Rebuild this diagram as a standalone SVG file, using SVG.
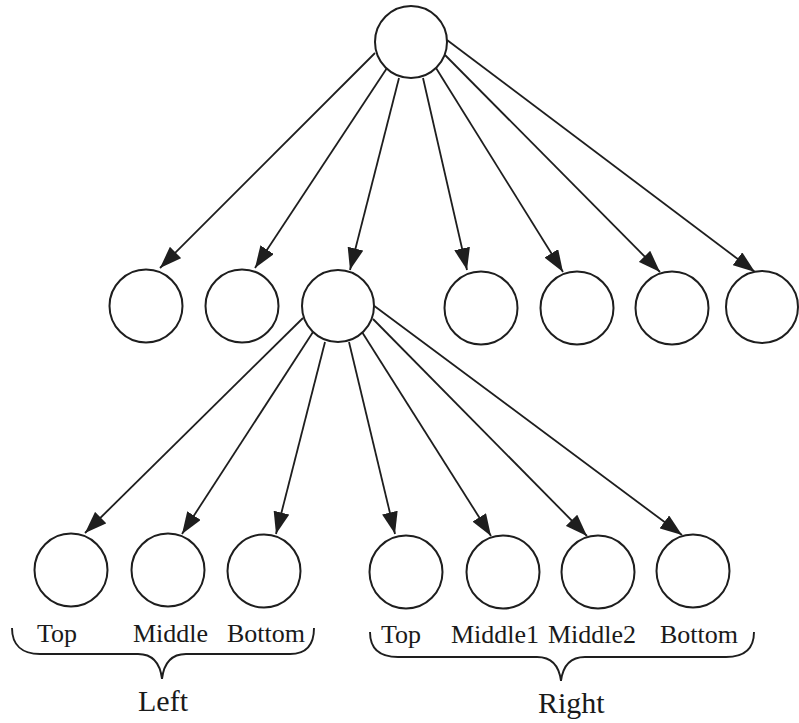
<svg xmlns="http://www.w3.org/2000/svg" width="799" height="723" viewBox="0 0 799 723">
  <style>
    .node { fill: #ffffff; stroke: #1e1e1e; stroke-width: 2; }
    .edge { stroke: #1e1e1e; stroke-width: 1.8; fill: none; marker-end: url(#arrow); }
    .brace { stroke: #1e1e1e; stroke-width: 1.9; fill: none; }
    .lbl { font-family: "Liberation Serif", "Times New Roman", serif; font-size: 26px; fill: #1a1a1a; }
    .grp { font-family: "Liberation Serif", "Times New Roman", serif; font-size: 30px; fill: #1a1a1a; }
  </style>
  <defs>
    <marker id="arrow" viewBox="0 0 22 16" refX="22" refY="8" markerWidth="22" markerHeight="16" markerUnits="userSpaceOnUse" orient="auto">
      <path d="M0,0 L22,8 L0,16 z" fill="#1e1e1e"/>
    </marker>
  </defs>
  <rect width="799" height="723" fill="#ffffff"/>

  <!-- connectors -->
  <g id="edges">
    <line class="edge" x1="375" y1="53" x2="160" y2="268"/>
    <line class="edge" x1="387" y1="68" x2="255" y2="268"/>
    <line class="edge" x1="399" y1="78" x2="350" y2="270"/>
    <line class="edge" x1="423" y1="78" x2="467" y2="270"/>
    <line class="edge" x1="436" y1="68" x2="563" y2="272"/>
    <line class="edge" x1="445" y1="55" x2="660" y2="272"/>
    <line class="edge" x1="447" y1="40" x2="755" y2="272"/>

    <line class="edge" x1="303" y1="318" x2="85" y2="533"/>
    <line class="edge" x1="313" y1="332" x2="182" y2="534"/>
    <line class="edge" x1="325" y1="342" x2="276" y2="534"/>
    <line class="edge" x1="349" y1="342" x2="395" y2="534"/>
    <line class="edge" x1="362" y1="332" x2="491" y2="536"/>
    <line class="edge" x1="373" y1="319" x2="587" y2="536"/>
    <line class="edge" x1="373" y1="305" x2="682" y2="535"/>
  </g>

  <!-- root -->
  <g id="root"><circle class="node" cx="411" cy="42" r="36"/></g>

  <!-- second level -->
  <g id="n1"><circle class="node" cx="146" cy="306" r="36.5"/></g>
  <g id="n2"><circle class="node" cx="242" cy="306" r="36.5"/></g>
  <g id="n3"><circle class="node" cx="338" cy="306" r="36"/></g>
  <g id="n4"><circle class="node" cx="481" cy="308" r="36.5"/></g>
  <g id="n5"><circle class="node" cx="577" cy="308" r="36.5"/></g>
  <g id="n6"><circle class="node" cx="672" cy="308" r="36.5"/></g>
  <g id="n7"><circle class="node" cx="762" cy="307" r="36"/></g>

  <!-- third level, left side -->
  <g id="left-top"><circle class="node" cx="71" cy="570" r="36.5"/><text class="lbl" x="37" y="642">Top</text></g>
  <g id="left-middle"><circle class="node" cx="168" cy="570" r="36.5"/><text class="lbl" x="133" y="642">Middle</text></g>
  <g id="left-bottom"><circle class="node" cx="264" cy="571" r="36.5"/><text class="lbl" x="227" y="642">Bottom</text></g>

  <!-- third level, right side -->
  <g id="right-top"><circle class="node" cx="406" cy="572" r="36.5"/><text class="lbl" x="381" y="643">Top</text></g>
  <g id="right-middle1"><circle class="node" cx="503" cy="572" r="36.5"/><text class="lbl" x="451" y="643">Middle1</text></g>
  <g id="right-middle2"><circle class="node" cx="598" cy="572" r="36.5"/><text class="lbl" x="548" y="643">Middle2</text></g>
  <g id="right-bottom"><circle class="node" cx="693" cy="571" r="36.5"/><text class="lbl" x="660" y="643">Bottom</text></g>

  <!-- group braces -->
  <g id="left-group">
    <path class="brace" d="M12,628 C12,645 22,654 40,654 L138,654 C152,654 160,662 162,679 C164,662 172,654 186,654 L290,654 C306,654 314,645 314,628"/>
    <text class="grp" x="138" y="711">Left</text>
  </g>
  <g id="right-group">
    <path class="brace" d="M370,632 C370,649 380,657 398,657 L537,657 C551,657 559,665 561,681 C563,665 571,657 585,657 L726,657 C744,657 754,649 754,632"/>
    <text class="grp" x="538" y="713">Right</text>
  </g>
</svg>
